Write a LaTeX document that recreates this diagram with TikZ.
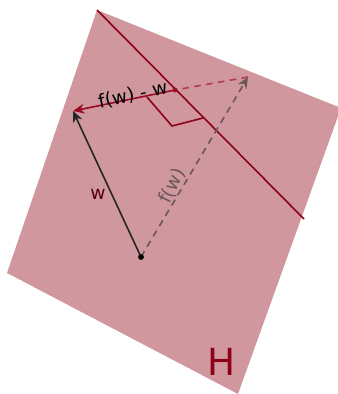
\documentclass[tikz,border=0pt]{standalone}
\usepackage{fontspec}
\setmainfont{DejaVu Sans}
\usepackage{tikz}
\usetikzlibrary{arrows.meta,calc}
\definecolor{planefill}{HTML}{D0989E}
\definecolor{hypred}{HTML}{8E0018}
\definecolor{vecred}{HTML}{9A0A22}
\definecolor{dashgray}{HTML}{6A5658}
\definecolor{dashred}{HTML}{B23C4C}
\tikzset{
  plane/.style={fill=planefill, draw=none},
  hyper/.style={draw=hypred, line width=1.2pt},
  wvec/.style={-{Stealth[length=3mm, width=2.6mm, inset=1mm]}, draw=black!85, line width=1.2pt},
  fvec/.style={-{Stealth[length=3mm, width=2.6mm, inset=1mm]}, draw=dashgray, line width=1.2pt, dash pattern=on 5pt off 4pt},
  dvec/.style={-{Stealth[length=3mm, width=2.6mm, inset=1mm]}, draw=vecred, line width=1.2pt},
  dpart/.style={draw=dashred, line width=1.2pt, dash pattern=on 5pt off 4pt},
  perp/.style={draw=hypred, line width=1.2pt},
  lab/.style={inner sep=1pt, font=\fontsize{14}{16}\selectfont},
}

\begin{document}
\begin{tikzpicture}[x=0.75pt, y=-0.75pt]
        \useasboundingbox (0,0) rectangle (338,394);
        % plane H
        \fill[plane] (97,10) -- (341,108) -- (238,394) -- (7,273) -- cycle;
        \coordinate (L1) at (97,10);
        \coordinate (L2) at (304,219);
        \draw[hyper] (L1) -- (L2);
        % vectors
        \coordinate (O) at (141,257);
        \coordinate (W) at (73,111);
        \coordinate (F) at (248,77);
        \coordinate (P) at (175,90);
        \draw[fvec] (O) -- (F);
        \draw[dpart] (F) -- (P);
        \draw[dvec] (P) -- (W);
        \draw[wvec] (O) -- (W);
        \fill (O) circle (2.2pt);
        \fill[vecred] (P) circle (1.8pt);
        % right angle mark
        \coordinate (R1) at (147,97);
        \coordinate (R2) at (172,126);
        \coordinate (R3) at (203,118);
        \draw[perp] (R1) -- (R2) -- (R3);
        % labels
        \node[lab, rotate=12] (dlab) at (133,95) {f(w) - w};
        \node[lab, text=hypred!60!black] (wlab) at (98,194) {w};
        \node[lab, text=dashgray, rotate=64] (flab) at (172,186) {f(w)};
        \node[text=hypred, font=\fontsize{28}{32}\selectfont] (Hlab) at (222,362) {H};
      \end{tikzpicture}
\end{document}
